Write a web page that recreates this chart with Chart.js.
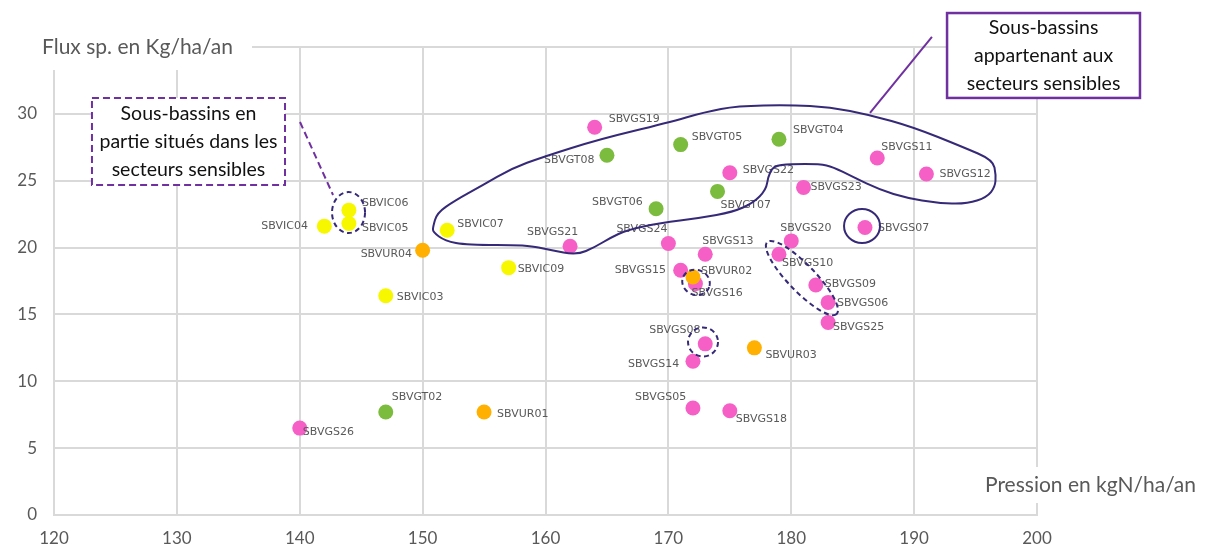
<!DOCTYPE html>
<html lang="fr">
<head>
<meta charset="utf-8">
<title>Flux spécifique et pression azotée par sous-bassin</title>
<script src="https://cdn.jsdelivr.net/npm/chart.js"></script>
<style>
    html, body { margin: 0; padding: 0; background: #ffffff; }
    #fluxChart { display: block; }
</style>
</head>
<body>
<canvas id="fluxChart" width="1210" height="548"></canvas>
<script>
// Sous-bassins SBVGS
const gsNames = ['SBVGS05', 'SBVGS06', 'SBVGS07', 'SBVGS08', 'SBVGS09', 'SBVGS10', 'SBVGS11', 'SBVGS12', 'SBVGS13', 'SBVGS14', 'SBVGS15', 'SBVGS16', 'SBVGS18', 'SBVGS19', 'SBVGS20', 'SBVGS21', 'SBVGS22', 'SBVGS23', 'SBVGS24', 'SBVGS25', 'SBVGS26'];
const gsPression = [172, 183, 186, 173, 182, 179, 187, 191, 173, 172, 171, 172.2, 175, 164, 180, 162, 175, 181, 170, 183, 140];
const gsFlux = [8.0, 15.9, 21.5, 12.8, 17.2, 19.5, 26.7, 25.5, 19.5, 11.5, 18.3, 17.3, 7.8, 29.0, 20.5, 20.1, 25.6, 24.5, 20.3, 14.4, 6.5];

// Sous-bassins SBVGT
const gtNames = ['SBVGT02', 'SBVGT04', 'SBVGT05', 'SBVGT06', 'SBVGT07', 'SBVGT08'];
const gtPression = [147, 179, 171, 169, 174, 165];
const gtFlux = [7.7, 28.1, 27.7, 22.9, 24.2, 26.9];

// Sous-bassins SBVIC
const icNames = ['SBVIC03', 'SBVIC04', 'SBVIC05', 'SBVIC06', 'SBVIC07', 'SBVIC09'];
const icPression = [147, 142, 144, 144, 152, 157];
const icFlux = [16.4, 21.6, 21.8, 22.8, 21.3, 18.5];

// Sous-bassins SBVUR
const urNames = ['SBVUR01', 'SBVUR02', 'SBVUR03', 'SBVUR04'];
const urPression = [155, 172, 177, 150];
const urFlux = [7.7, 17.8, 12.5, 19.8];

const xTicks = [120, 130, 140, 150, 160, 170, 180, 190, 200];
const yTicks = [0, 5, 10, 15, 20, 25, 30, 35];

const xTitle = 'Pression en kgN/ha/an';
const yTitle = 'Flux sp. en Kg/ha/an';

// label placement around each point: [dx to text start, dy to text middle] in px
const labelOffsets = {
    SBVGS05: [-58, -11], SBVGS06: [9, 1], SBVGS07: [13, 1], SBVGS08: [-56, -14],
    SBVGS09: [9, -1], SBVGS10: [3, 9], SBVGS11: [4, -11], SBVGS12: [13, 0],
    SBVGS13: [-3, -13], SBVGS14: [-65, 3], SBVGS15: [-66, 0], SBVGS16: [-4, 9],
    SBVGS18: [6, 8], SBVGS19: [14, -8], SBVGS20: [-11, -13], SBVGS21: [-43, -14],
    SBVGS22: [13, -3], SBVGS23: [7, 0], SBVGS24: [-52, -14], SBVGS25: [5, 5],
    SBVGS26: [3, 4],
    SBVGT02: [6, -15], SBVGT04: [14, -9], SBVGT05: [11, -7], SBVGT06: [-64, -7],
    SBVGT07: [3, 14], SBVGT08: [-63, 5],
    SBVIC03: [11, 1], SBVIC04: [-63, 0], SBVIC05: [13, 5], SBVIC06: [13, -7],
    SBVIC07: [10, -6], SBVIC09: [9, 2],
    SBVUR01: [13, 2], SBVUR02: [8, -6], SBVUR03: [11, 7], SBVUR04: [-62, 4]
};

// contour of the sous-bassins in the secteurs sensibles, in axis units
const sensitiveOutline = [
    [150.84, 21.54], [151.17, 22.59], [152.6, 23.5], [154.91, 24.68], [157.2, 25.9], [159.79, 26.78],
    [164.44, 28.12], [169.89, 29.32], [172.98, 30.14], [175.59, 30.59], [179.9, 30.66],
    [183.15, 30.51], [186.41, 29.92], [189.91, 29.02], [193.97, 27.52], [196.42, 26.55],
    [196.66, 25.43], [196.58, 24.53], [195.93, 23.78], [194.3, 23.26], [191.86, 23.33],
    [189.42, 23.71], [187.22, 24.31], [185.02, 25.28], [183.4, 26.03], [182.34, 26.25],
    [179.9, 26.25], [178.52, 26.1], [178.11, 25.28], [177.95, 24.31], [176.89, 23.33],
    [175.26, 22.66], [172.57, 22.21], [169.32, 21.84], [166.63, 21.31], [165.25, 20.72],
    [164.03, 20.04], [162.56, 19.45], [160.37, 19.82], [158.49, 20.19], [153.61, 20.19],
    [151.82, 20.49], [150.84, 21.16]
];

// rings around single points: centre in axis units, radii in px, rotation in degrees
const dashedRings = [
    { x: 143.97, y: 22.62, rx: 16.5, ry: 20.5, rot: 0 },
    { x: 172.25, y: 17.4, rx: 14, ry: 12.5, rot: 20 },
    { x: 172.82, y: 12.94, rx: 15, ry: 14.5, rot: 0 },
    { x: 180.87, y: 17.72, rx: 50, ry: 13.5, rot: 46 }
];
const solidRings = [
    { x: 185.76, y: 21.61, rx: 18, ry: 17, rot: 0 }
];

const partialBox = {
    x1: 123.09, x2: 138.8, y1: 31.19, y2: 24.68,
    lines: ['Sous-bassins en', 'partie situés dans les', 'secteurs sensibles'],
    leader: [[140.02, 29.39], [142.71, 23.93]]
};
const sensitiveBox = {
    x1: 192.68, x2: 208.38, y1: 37.54, y2: 31.19,
    lines: ['Sous-bassins', 'appartenant aux', 'secteurs sensibles'],
    leader: [[191.45, 35.75], [186.41, 30.07]]
};

const PINK = '#f55fc6';
const GREEN = '#7bbb3e';
const YELLOW = '#f7f700';
const ORANGE = '#ffb000';
const PURPLE = '#7030a0';
const INK = '#362a78';
const GRID = '#d9d9d9';
const TEXT_GREY = '#595959';

function toPoints(names, xs, ys) {
    return names.map((n, i) => ({ x: xs[i], y: ys[i], name: n }));
}

function makeDataset(label, names, xs, ys, color) {
    return {
        label: label,
        data: toPoints(names, xs, ys),
        backgroundColor: color,
        borderColor: color,
        borderWidth: 0,
        pointRadius: 7.5,
        pointHoverRadius: 7.5
    };
}

function smoothClosed(ctx, pts) {
    const n = pts.length;
    const mid = (a, b) => [(a[0] + b[0]) / 2, (a[1] + b[1]) / 2];
    const start = mid(pts[n - 1], pts[0]);
    ctx.moveTo(start[0], start[1]);
    for (let i = 0; i < n; i++) {
        const next = mid(pts[i], pts[(i + 1) % n]);
        ctx.quadraticCurveTo(pts[i][0], pts[i][1], next[0], next[1]);
    }
    ctx.closePath();
}

function drawRing(ctx, chart, r) {
    const cx = chart.scales.x.getPixelForValue(r.x);
    const cy = chart.scales.y.getPixelForValue(r.y);
    ctx.beginPath();
    ctx.ellipse(cx, cy, r.rx, r.ry, r.rot * Math.PI / 180, 0, Math.PI * 2);
    ctx.stroke();
}

function drawBox(ctx, chart, box, dashed) {
    const sx = chart.scales.x, sy = chart.scales.y;
    const x1 = sx.getPixelForValue(box.x1), x2 = sx.getPixelForValue(box.x2);
    const y1 = sy.getPixelForValue(box.y1), y2 = sy.getPixelForValue(box.y2);

    // leader line first, the box sits over its end
    ctx.save();
    ctx.strokeStyle = PURPLE;
    ctx.lineWidth = 2;
    ctx.setLineDash(dashed ? [7, 4] : []);
    ctx.beginPath();
    ctx.moveTo(sx.getPixelForValue(box.leader[0][0]), sy.getPixelForValue(box.leader[0][1]));
    ctx.lineTo(sx.getPixelForValue(box.leader[1][0]), sy.getPixelForValue(box.leader[1][1]));
    ctx.stroke();

    ctx.fillStyle = '#ffffff';
    ctx.fillRect(x1, y1, x2 - x1, y2 - y1);
    ctx.lineWidth = dashed ? 2 : 2.5;
    ctx.strokeRect(x1, y1, x2 - x1, y2 - y1);

    ctx.setLineDash([]);
    ctx.fillStyle = '#111111';
    ctx.font = '19.5px Lato, "Open Sans", sans-serif';
    ctx.textAlign = 'center';
    ctx.textBaseline = 'middle';
    const cx = (x1 + x2) / 2;
    const lineH = 28;
    const top = (y1 + y2) / 2 - lineH;
    box.lines.forEach((t, i) => ctx.fillText(t, cx, top + i * lineH));
    ctx.restore();
}

const annotationsPlugin = {
    id: 'annotations',
    afterDatasetsDraw(chart) {
        const ctx = chart.ctx;
        const sx = chart.scales.x, sy = chart.scales.y;

        // point names
        ctx.save();
        ctx.font = '11px "DejaVu Sans", sans-serif';
        ctx.fillStyle = TEXT_GREY;
        ctx.textAlign = 'left';
        ctx.textBaseline = 'middle';
        chart.data.datasets.forEach((ds, di) => {
            const meta = chart.getDatasetMeta(di);
            meta.data.forEach((el, i) => {
                const name = ds.data[i].name;
                const off = labelOffsets[name] || [10, 0];
                ctx.fillText(name, el.x + off[0], el.y + off[1]);
            });
        });
        ctx.restore();

        // big contour
        ctx.save();
        ctx.strokeStyle = INK;
        ctx.lineWidth = 2;
        ctx.lineJoin = 'round';
        ctx.beginPath();
        smoothClosed(ctx, sensitiveOutline.map(p => [sx.getPixelForValue(p[0]), sy.getPixelForValue(p[1])]));
        ctx.stroke();

        solidRings.forEach(r => drawRing(ctx, chart, r));

        ctx.setLineDash([5, 3.5]);
        dashedRings.forEach(r => drawRing(ctx, chart, r));
        ctx.restore();
    },
    afterDraw(chart) {
        const ctx = chart.ctx;
        const area = chart.chartArea;

        // axis titles on white patches that hide the grid behind them
        ctx.save();
        ctx.fillStyle = '#ffffff';
        ctx.fillRect(0, area.top - 20, 252, 43);
        ctx.fillRect(978, area.bottom - 48, 232, 36);
        ctx.fillStyle = TEXT_GREY;
        ctx.font = '21px Lato, "Open Sans", sans-serif';
        ctx.textAlign = 'left';
        ctx.textBaseline = 'middle';
        ctx.fillText(yTitle, 42, area.top);
        ctx.fillText(xTitle, 985, area.bottom - 30);
        ctx.restore();

        drawBox(ctx, chart, partialBox, true);
        drawBox(ctx, chart, sensitiveBox, false);
    }
};

const tickFont = { family: 'Lato, "Open Sans", sans-serif', size: 17 };

new Chart(document.getElementById('fluxChart'), {
    type: 'scatter',
    data: {
        datasets: [
            makeDataset('SBVUR', urNames, urPression, urFlux, ORANGE),
            makeDataset('SBVIC', icNames, icPression, icFlux, YELLOW),
            makeDataset('SBVGT', gtNames, gtPression, gtFlux, GREEN),
            makeDataset('SBVGS', gsNames, gsPression, gsFlux, PINK)
        ]
    },
    options: {
        responsive: false,
        animation: false,
        layout: { padding: { top: 47, right: 173, left: 0, bottom: 0 } },
        plugins: {
            legend: { display: false },
            tooltip: { enabled: false }
        },
        scales: {
            x: {
                type: 'linear',
                min: xTicks[0],
                max: xTicks[xTicks.length - 1],
                afterBuildTicks: s => { s.ticks = xTicks.map(v => ({ value: v })); },
                ticks: { color: TEXT_GREY, font: tickFont, padding: 13, maxRotation: 0 },
                grid: { color: GRID, lineWidth: 2, drawTicks: false },
                border: { color: GRID, width: 2 },
                afterFit: s => { s.height = 33; }
            },
            y: {
                type: 'linear',
                min: yTicks[0],
                max: yTicks[yTicks.length - 1],
                afterBuildTicks: s => { s.ticks = yTicks.map(v => ({ value: v })); },
                ticks: {
                    color: TEXT_GREY,
                    font: tickFont,
                    padding: 17,
                    callback: v => (v === yTicks[yTicks.length - 1] ? '' : v)
                },
                grid: { color: GRID, lineWidth: 2, drawTicks: false },
                border: { color: GRID, width: 2 },
                afterFit: s => { s.width = 54; }
            }
        }
    },
    plugins: [annotationsPlugin]
});
</script>
</body>
</html>
